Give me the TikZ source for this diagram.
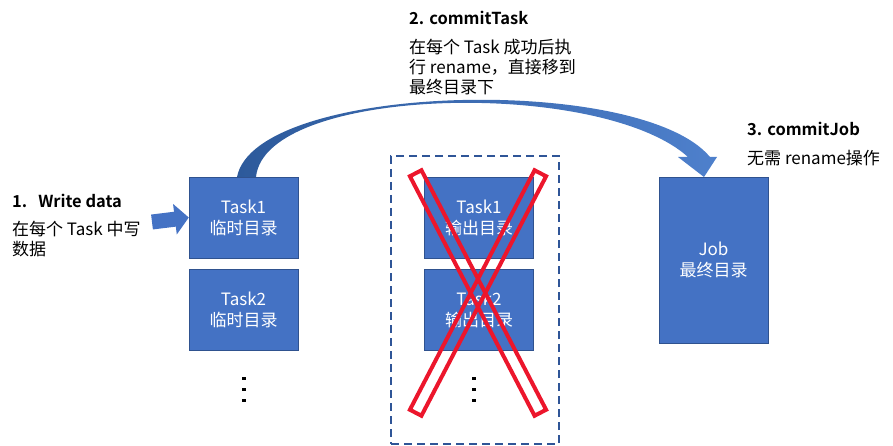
\documentclass[tikz,border=0pt]{standalone}
\usepackage{fontspec}
\setmainfont{Noto Sans CJK SC}[BoldFont={Noto Sans CJK SC Bold}]
\usetikzlibrary{positioning,arrows.meta}

\definecolor{boxblue}{RGB}{68,114,196}
\definecolor{boxedge}{RGB}{47,82,143}
\definecolor{dashblue}{RGB}{47,85,151}
\definecolor{arcdark}{RGB}{45,90,155}
\definecolor{arclight}{RGB}{78,128,204}
\definecolor{xred}{RGB}{236,22,44}

\begin{document}
\begin{tikzpicture}[x=1pt,y=-1pt,
    taskbox/.style={draw=boxedge, fill=boxblue, text=white, minimum width=109pt,
      minimum height=81pt, inner sep=0pt, align=center, font=\fontsize{17}{21}\selectfont},
    note/.style={inner sep=0pt, align=left, font=\fontsize{17}{20}\selectfont},
    title/.style={inner sep=0pt, anchor=west, font=\fontsize{16.5}{20}\selectfont\bfseries},
    crossbar/.style={draw=xred, line width=4pt, minimum width=270pt, minimum height=13pt, inner sep=0pt}]
    \useasboundingbox (0,0) rectangle (893,446);

    % temporary task directories
    \node[taskbox] (tmpA) at (243.5,217.5) {Task1\\临时目录};
    \node[taskbox, below=11pt of tmpA] (tmpB) {Task2\\临时目录};
    \foreach \y in {378,389,400}
      \fill (241.5,\y-1.5) rectangle (245.5,\y+1.5);

    % task output directories (not used)
    \node[draw=dashblue, line width=2pt, dash pattern=on 8pt off 5pt,
      minimum width=168pt, minimum height=288pt] (outFrame) at (475,300) {};
    \node[taskbox] (outA) at (479,217.5) {Task1\\输出目录};
    \node[taskbox, below=11pt of outA] (outB) {Task2\\输出目录};
    \foreach \y in {378,389,400}
      \fill (472,\y-1.5) rectangle (476,\y+1.5);
    \node[crossbar, rotate=62.5] (crossA) at (478,293) {};
    \node[crossbar, rotate=-62.5] (crossB) at (478,293) {};

    % final job directory
    \node[taskbox, minimum height=166pt] (jobDir) at (713.5,260) {Job\\最终目录};

    % 1. write data
    \node[title] (stepA) at (12,201) {1.\hspace{11pt}Write data};
    \node[note, anchor=north west] (stepAtxt) at (12,221) {在每个 Task 中写\\数据};
    \coordinate (wdStart) at (152,222);
    \draw[boxblue, line width=15pt, -{Triangle[length=14pt,width=30pt]}] (wdStart) -- (tmpA.west);

    % 2. commit task
    \node[title] (stepB) at (409,18) {2. commitTask};
    \node[note, anchor=north west] (stepBtxt) at (409,39) {在每个 Task 成功后执\\行 rename，直接移到\\最终目录下};
    \shade[left color=arcdark, right color=arclight]
      (237,177) .. controls (255,83) and (640,73) .. (710,157)
      -- (717,157) -- (704,177) -- (678,157) -- (688,157)
      .. controls (600,78) and (265,86) .. (256,177) -- cycle;

    % 3. commit job
    \node[title] (stepC) at (747,129) {3. commitJob};
    \node[note, anchor=west] (stepCtxt) at (747,158) {无需 rename操作};
\end{tikzpicture}
\end{document}
